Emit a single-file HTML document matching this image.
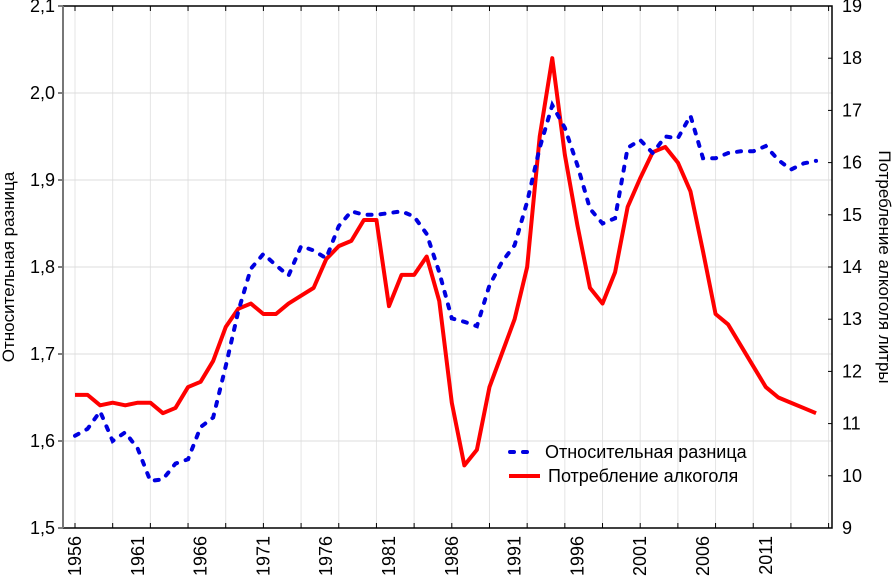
<!DOCTYPE html>
<html><head><meta charset="utf-8"><style>
body{margin:0;background:#fff;}
svg text{font-family:"Liberation Sans",sans-serif;fill:#000;}
</style></head><body>
<svg id="chart" width="893" height="578"></svg>
<script>
const years = [];
for (let y = 1956; y <= 2015; y++) years.push(y);
const relDiff = [1.606,1.614,1.634,1.600,1.610,1.591,1.554,1.556,1.574,1.579,1.616,1.627,1.686,1.749,1.798,1.815,1.802,1.790,1.824,1.819,1.810,1.847,1.864,1.860,1.860,1.862,1.864,1.858,1.838,1.794,1.741,1.737,1.732,1.779,1.806,1.825,1.875,1.937,1.986,1.960,1.917,1.867,1.850,1.856,1.937,1.946,1.931,1.950,1.948,1.974,1.925,1.925,1.931,1.933,1.933,1.939,1.923,1.912,1.919,1.922];
const alcohol = [11.55,11.55,11.35,11.4,11.35,11.4,11.4,11.2,11.3,11.7,11.8,12.2,12.85,13.2,13.3,13.1,13.1,13.3,13.45,13.6,14.15,14.4,14.5,14.9,14.9,13.25,13.85,13.85,14.2,13.35,11.4,10.2,10.5,11.7,12.35,13.0,14.0,16.5,18.0,16.15,14.8,13.6,13.3,13.9,15.15,15.7,16.2,16.3,16.0,15.45,14.3,13.1,12.9,12.5,12.1,11.7,11.5,11.4,11.3,11.2];
const leftTicks = ["1,5","1,6","1,7","1,8","1,9","2,0","2,1"];
const rightTicks = ["9","10","11","12","13","14","15","16","17","18","19"];
const xLabels = [1956,1961,1966,1971,1976,1981,1986,1991,1996,2001,2006,2011];

const L=63,R=832,T=6,B=528;
const xs = y => 75 + (y-1956)*12.56;
const yl = v => B - (v-1.5)/0.6*(B-T);
const yr = v => B - (v-9)/10*(B-T);
const svg = document.getElementById('chart');
const NS='http://www.w3.org/2000/svg';
function mk(tag, attrs, parent){const e=document.createElementNS(NS,tag);for(const k in attrs)e.setAttribute(k,attrs[k]);(parent||svg).appendChild(e);return e;}

for (let y=1956; y<=2016; y+=3){
  const x=xs(y);
  const g=mk('line',{x1:x,x2:x,y1:T,y2:B,stroke:'#e4e4e4','stroke-width':1});
  
  
  const t1=mk('line',{x1:x,x2:x,y1:B,y2:B-5,stroke:'#000','stroke-width':1});
  
  
  const t2=mk('line',{x1:x,x2:x,y1:T,y2:T+5,stroke:'#000','stroke-width':1});
  
  
}
leftTicks.forEach((lab,i)=>{
  const v=1.5+i*0.1, y=yl(v);
  const g=mk('line',{x1:L,x2:R,y1:y,y2:y,stroke:'#dcdcdc','stroke-width':1});
  
  
  const tk=mk('line',{x1:L-5,x2:L,y1:y,y2:y,stroke:'#000','stroke-width':1});
  
  
  const t=mk('text',{x:L-8,y:y+6,'text-anchor':'end','font-size':18});
  t.textContent=lab;
  
  
});
rightTicks.forEach((lab,i)=>{
  const y=yr(9+i);
  const tk=mk('line',{x1:R-4,x2:R,y1:y,y2:y,stroke:'#000','stroke-width':1});
  
  
  const t=mk('text',{x:R+10,y:y+6,'font-size':18});
  t.textContent=lab;
  
  
});
xLabels.forEach(yv=>{
  const x=xs(yv);
  const t=mk('text',{x:0,y:0,'text-anchor':'end','font-size':18,transform:`translate(${x+6},${B+8}) rotate(-90)`});
  t.textContent=yv;
  
  
});
const fr=mk('path',{d:`M${L},${T}H${R}V${B}H${L}`,fill:'none',stroke:'#000','stroke-width':1.5});


const la=mk('line',{x1:L,x2:L,y1:T,y2:B,stroke:'#777','stroke-width':2});



const red=mk('polyline',{points:years.map((y,i)=>xs(y)+','+yr(alcohol[i])).join(' '),fill:'none',stroke:'#f00','stroke-width':4,'stroke-linejoin':'round'});


const blue=mk('polyline',{points:years.map((y,i)=>xs(y)+','+yl(relDiff[i])).join(' '),fill:'none',stroke:'#0000e0','stroke-width':4,'stroke-dasharray':'4 9','stroke-linecap':'round'});



const lt=mk('text',{x:0,y:0,'text-anchor':'middle','font-size':17,transform:`translate(14,${(T+B)/2}) rotate(-90)`});
lt.textContent='Относительная разница';


const rt=mk('text',{x:0,y:0,'text-anchor':'middle','font-size':17,transform:`translate(879,${(T+B)/2}) rotate(90)`});
rt.textContent='Потребление алкоголя литры';



const l1=mk('line',{x1:510,x2:528,y1:452,y2:452,stroke:'#0000e0','stroke-width':4,'stroke-dasharray':'4 9','stroke-linecap':'round'});


const lt1=mk('text',{x:545,y:458,'font-size':18});
lt1.textContent='Относительная разница';


const l2=mk('line',{x1:509,x2:540,y1:476,y2:476,stroke:'#f00','stroke-width':4});


const lt2=mk('text',{x:548,y:482,'font-size':18});
lt2.textContent='Потребление алкоголя';


</script>
</body></html>
